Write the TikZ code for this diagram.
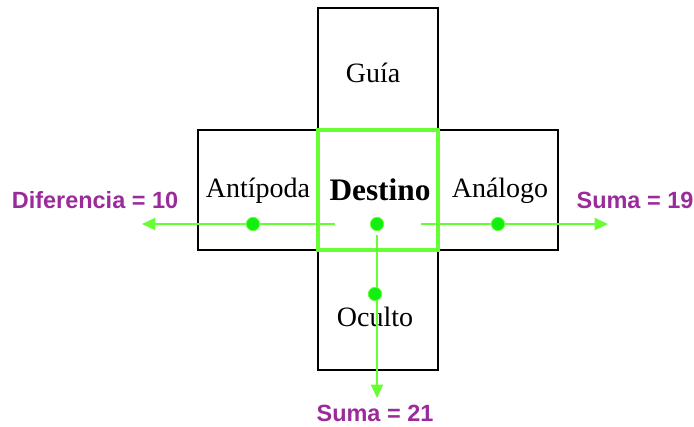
\documentclass[tikz,border=0pt]{standalone}
\usepackage{fontspec}
\setmainfont{Liberation Serif}
\setsansfont{Liberation Sans}
\usetikzlibrary{arrows.meta}
\definecolor{lima}{RGB}{102,255,51}
\definecolor{verde}{RGB}{17,238,17}
\definecolor{morado}{RGB}{155,42,155}

\begin{document}
\begin{tikzpicture}[x=0.75pt,y=0.75pt,yscale=-1,xscale=1,
		caja/.style={draw,line width=1.1pt,minimum width=90pt,minimum height=90pt,inner sep=0pt},
		texto/.style={inner sep=0pt,font=\fontsize{21}{24}\selectfont},
		punto/.style={circle,fill=verde,draw=lima,line width=0.6pt,inner sep=0pt,minimum size=10pt},
		flecha/.style={draw=lima,line width=1.5pt,-{Triangle[length=10pt,width=9pt]}},
		suma/.style={inner sep=0pt,text=morado,font=\sffamily\bfseries\fontsize{17.6}{20}\selectfont}]
		\useasboundingbox (0,0) rectangle (694,427);

		% las cuatro casillas y la del destino
		\node[caja, minimum height=91.5pt] (guia) at (378,69) {};
		\node[caja] (antipoda) at (258,190) {};
		\node[caja] (analogo) at (498,190) {};
		\node[caja] (oculto) at (378,310) {};
		\node[caja, draw=lima, line width=3pt] (destino) at (378,190) {};

		\node[texto] (tGuia) at (373,73) {Guía};
		\node[texto] (tAntipoda) at (258,191) {Antípoda};
		\node[texto, font=\bfseries\fontsize{23.5}{27}\selectfont] (tDestino) at (380,190) {Destino};
		\node[texto] (tAnalogo) at (500,191) {Análogo};
		\node[texto] (tOculto) at (375,317) {Oculto};

		% sumas y diferencia
		\node[suma] (dif) at (95,200) {Diferencia = 10};
		\node[suma] (suma19) at (635,200) {Suma = 19};
		\node[suma] (suma21) at (375,413) {Suma = 21};

		\coordinate (izq) at (335,224);
		\coordinate (der) at (421,224);
		\coordinate (abajo) at (377,235);
		\coordinate (finIzq) at (142,224);
		\coordinate (finDer) at (608,224);
		\coordinate (finAbajo) at (377,398);

		\draw[flecha] (izq) -- (finIzq);
		\draw[flecha] (der) -- (finDer);
		\draw[flecha] (abajo) -- (finAbajo);

		\node[punto] (pAntipoda) at (253,224) {};
		\node[punto] (pDestino) at (377,224) {};
		\node[punto] (pAnalogo) at (498,224) {};
		\node[punto] (pOculto) at (375,294) {};
\end{tikzpicture}
\end{document}
